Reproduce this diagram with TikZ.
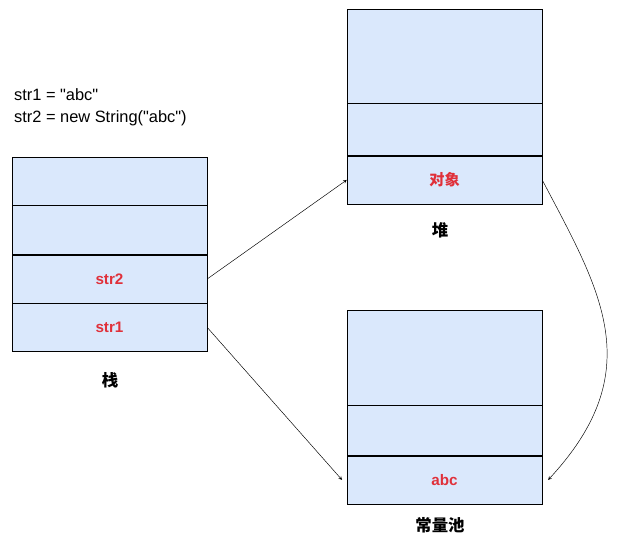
\documentclass[tikz,border=0pt]{standalone}
\usepackage{fontspec}
\setmainfont{Liberation Sans}[Ligatures=TeXOff]
\newfontfamily\cjk{Noto Sans CJK SC}
\usetikzlibrary{positioning}
\definecolor{cellblue}{HTML}{DAE8FC}
\definecolor{labred}{HTML}{E0303A}
\tikzset{
    >=stealth,
    % cells of the memory boxes
    cell/.style={
           rectangle,
           draw=black,
           fill=cellblue,
           inner sep=0pt,
           minimum width=5.85cm,
           font=\bfseries\fontsize{13}{15}\selectfont,
           text=labred},
    % captions under the boxes
    caption/.style={font=\cjk\bfseries\fontsize{14}{16}\selectfont},
    pil/.style={->, thin},
}
\begin{document}
\begin{tikzpicture}[x=0.03cm,y=-0.03cm]
\useasboundingbox (0,0) rectangle (640,549);

% Code
\node[anchor=west,font=\fontsize{14}{16}\selectfont] (code1) at (10,95) {str1 = "abc"};
\node[anchor=west,font=\fontsize{14}{16}\selectfont] (code2) at (10,118) {str2 = new String("abc")};

% Stack
\node[cell,minimum height=1.44cm] (s1) at (109.5,181) {};
\node[cell,minimum height=1.47cm,below=0pt of s1] (s2) {};
\node[cell,minimum height=1.44cm,below=0pt of s2] (s3) {str2};
\node[cell,minimum height=1.44cm,below=0pt of s3] (s4) {str1};
\node[caption] (stack) at (110,380) {栈};

% Heap
\node[cell,minimum height=2.82cm] (h1) at (444.5,56) {};
\node[cell,minimum height=1.56cm,below=0pt of h1] (h2) {};
\node[cell,minimum height=1.44cm,below=0pt of h2] (h3) {\cjk\bfseries 对象};
\node[caption] (heap) at (440,230) {堆};

% Constant pool
\node[cell,minimum height=2.85cm] (p1) at (444.5,357.5) {};
\node[cell,minimum height=1.5cm,below=0pt of p1] (p2) {};
\node[cell,minimum height=1.44cm,below=0pt of p2] (p3) {abc};
\node[caption] (pool) at (440,525) {常量池};

% Arrows
\draw[pil] (s3.east) -- (h3.west);
\draw[pil] (s4.east) -- ([xshift=-4]p3.west);
\draw[pil] (h3.east) .. controls (600,290) and (650,370) .. ([xshift=5]p3.east);
\end{tikzpicture}
\end{document}
